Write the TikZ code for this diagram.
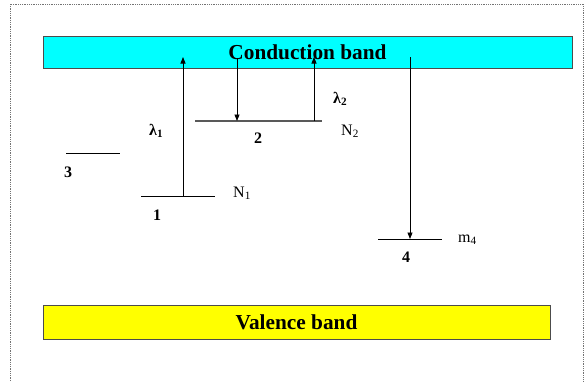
\documentclass[tikz,border=0pt]{standalone}
\usepackage{fontspec}
\setmainfont{Liberation Serif}
\usetikzlibrary{arrows.meta, positioning}

\definecolor{cbcyan}{RGB}{0,255,255}
\definecolor{vbyellow}{RGB}{255,255,0}

\tikzset{
  band/.style={draw=black!70, line width=1pt, inner sep=0pt, font=\fontsize{21.3}{24}\selectfont\bfseries},
  level/.style={line width=1pt},
  lbl/.style={inner sep=0pt, anchor=base west, font=\fontsize{16}{18}\selectfont},
  numlbl/.style={lbl, font=\fontsize{16}{18}\selectfont\bfseries},
  transition/.style={->, line width=0.8pt},
}

\begin{document}
\begin{tikzpicture}[x=1pt, y=-1pt, >={Triangle[length=6.5pt, width=5pt]}]
    \useasboundingbox (0,0) rectangle (584,381);

    % --- Frame ---
    \draw[black!55, densely dotted, line width=0.8pt] (10,381) -- (10,4) -- (583,4) -- (583,381);

    % --- Bands ---
    \node[band, fill=cbcyan, minimum width=529pt, minimum height=32pt] (cb) at (307.5,52) {Conduction band};
    \node[band, fill=vbyellow, minimum width=507pt, minimum height=34pt] (vb) at (296.5,322) {Valence band};

    % --- Level 1 ---
    \coordinate (l1w) at (141,196);
    \coordinate (l1e) at (215,196);
    \draw[level] (l1w) -- (l1e);
    \node[numlbl] (n1) at (153,220) {1};
    \node[lbl] (N1) at (233,197) {N\textsubscript{1}};

    % --- Level 2 ---
    \coordinate (l2w) at (195,121);
    \coordinate (l2e) at (322,121);
    \draw[level, black!65, line width=1.4pt] (l2w) -- (l2e);
    \node[numlbl] (n2) at (254,143) {2};
    \node[lbl] (N2) at (341,135) {N\textsubscript{2}};

    % --- Level 3 ---
    \coordinate (l3w) at (66,153);
    \coordinate (l3e) at (120,153);
    \draw[level] (l3w) -- (l3e);
    \node[numlbl] (n3) at (64,177) {3};

    % --- Level 4 ---
    \coordinate (l4w) at (378,239);
    \coordinate (l4e) at (442,239);
    \draw[level] (l4w) -- (l4e);
    \node[numlbl] (n4) at (402,262) {4};
    \node[lbl] (m4) at (458,242) {m\textsubscript{4}};

    % --- Transitions ---
    \coordinate (l1a) at (183,196);
    \coordinate (cb1) at (183,57);
    \draw[transition] (l1a) -- (cb1);
    \node[numlbl] (lam1) at (149,135) {λ\textsubscript{1}};

    \coordinate (cb2) at (237,58);
    \coordinate (l2a) at (237,121);
    \draw[transition] (cb2) -- (l2a);

    \coordinate (l2b) at (314,121);
    \coordinate (cb3) at (314,57);
    \draw[transition] (l2b) -- (cb3);
    \node[numlbl] (lam2) at (333,103) {λ\textsubscript{2}};

    \coordinate (cb4) at (410,57);
    \coordinate (l4a) at (410,239);
    \draw[transition] (cb4) -- (l4a);
\end{tikzpicture}
\end{document}
